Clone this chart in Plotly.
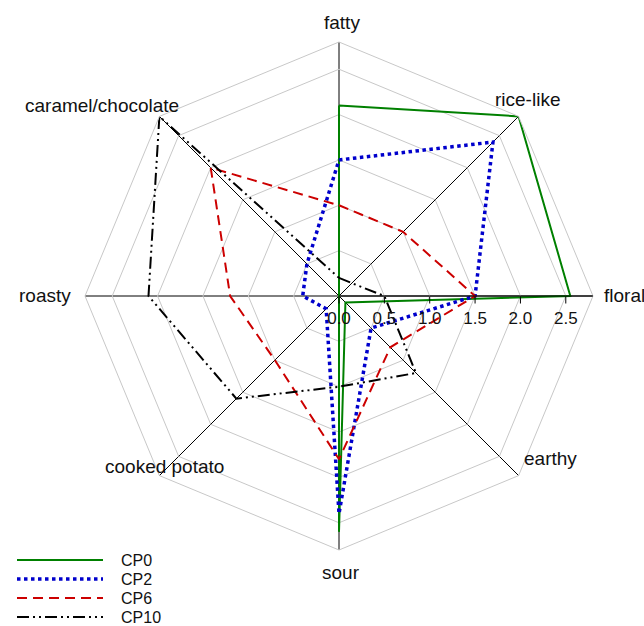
import plotly.graph_objects as go

categories = ["fatty", "rice-like", "floral", "earthy", "sour",
              "cooked potato", "roasty", "caramel/chocolate"]
cp0 = [2.1, 2.8, 2.55, 0.1, 2.6, 0.0, 0.0, 0.0]
cp2 = [1.5, 2.4, 1.5, 0.5, 2.4, 0.2, 0.4, 0.5]
cp6 = [1.0, 1.0, 1.5, 0.8, 1.8, 1.0, 1.2, 2.0]
cp10 = [0.2, 0.2, 0.5, 1.2, 1.0, 1.6, 2.1, 2.8]
series_names = ["CP0", "CP2", "CP6", "CP10"]
tick_vals = [0.0, 0.5, 1.0, 1.5, 2.0, 2.5]
tick_text = ["0.0", "0.5", "1.0", "1.5", "2.0", "2.5"]

styles = [
    dict(color="#008000", width=2, dash="solid"),
    dict(color="#0000CC", width=3.5, dash="dot"),
    dict(color="#CC0000", width=2, dash="10px,6px"),
    dict(color="#000000", width=2, dash="12px,4px,2px,4px,2px,4px"),
]

fig = go.Figure()
for name, vals, st in zip(series_names, [cp0, cp2, cp6, cp10], styles):
    fig.add_trace(go.Scatterpolar(
        r=vals + vals[:1],
        theta=categories + categories[:1],
        mode="lines",
        name=name,
        line=st,
        showlegend=False,
    ))

W, H = 644, 626
cx, cy, R = 339, 296, 254

# category label placement (pixel positions, layout only)
label_pos = {
    "fatty": (342, 22, "center"),
    "rice-like": (527, 100, "center"),
    "floral": (602, 296, "left"),
    "earthy": (550, 458, "center"),
    "sour": (341, 572, "center"),
    "cooked potato": (164, 466, "center"),
    "roasty": (73, 296, "right"),
    "caramel/chocolate": (181, 106, "right"),
}

annos, shapes = [], []
for cat in categories:
    px, py, anc = label_pos[cat]
    annos.append(dict(text=cat, xref="paper", yref="paper", x=px / W, y=1 - py / H,
                      xanchor=anc, yanchor="middle", showarrow=False,
                      font=dict(size=19, color="#111")))

# manual legend (layout only)
leg_x0, leg_x1, leg_tx = 17, 103, 120
leg_y0, leg_dy = 560, 19
for i, (name, st) in enumerate(zip(series_names, styles)):
    yy = 1 - (leg_y0 + i * leg_dy) / H
    shapes.append(dict(type="line", xref="paper", yref="paper",
                       x0=leg_x0 / W, x1=leg_x1 / W, y0=yy, y1=yy,
                       line=dict(color=st["color"], width=st["width"], dash=st["dash"])))
    annos.append(dict(text=name, xref="paper", yref="paper", x=leg_tx / W, y=yy,
                      xanchor="left", yanchor="middle", showarrow=False, borderpad=0,
                      font=dict(size=16, color="#111")))

fig.update_layout(
    width=W, height=H,
    margin=dict(l=0, r=0, t=0, b=0),
    paper_bgcolor="white",
    font=dict(family="Liberation Sans, Arial, sans-serif", size=18, color="#111"),
    shapes=shapes,
    annotations=annos,
    showlegend=False,
    polar=dict(
        domain=dict(x=[(cx - R) / W, (cx + R) / W],
                    y=[(H - cy - R) / H, (H - cy + R) / H]),
        bgcolor="white",
        gridshape="linear",
        angularaxis=dict(
            direction="clockwise", rotation=90,
            showgrid=True, gridcolor="#000000", gridwidth=1,
            showline=True, linecolor="#C8C8C8", linewidth=1,
            ticks="", showticklabels=False,
        ),
        radialaxis=dict(
            range=[0, 2.8], angle=0, side="clockwise",
            tickvals=tick_vals, ticktext=tick_text,
            showgrid=True, gridcolor="#C8C8C8", gridwidth=1,
            showline=True, linecolor="#000000", linewidth=1,
            ticks="outside", ticklen=7, tickcolor="#000000",
            tickfont=dict(size=17, color="#111"),
            tickangle=0,
        ),
    ),
)

fig.write_html("out.html", config={"displayModeBar": False},
               post_script="document.body.style.margin='0px';")
